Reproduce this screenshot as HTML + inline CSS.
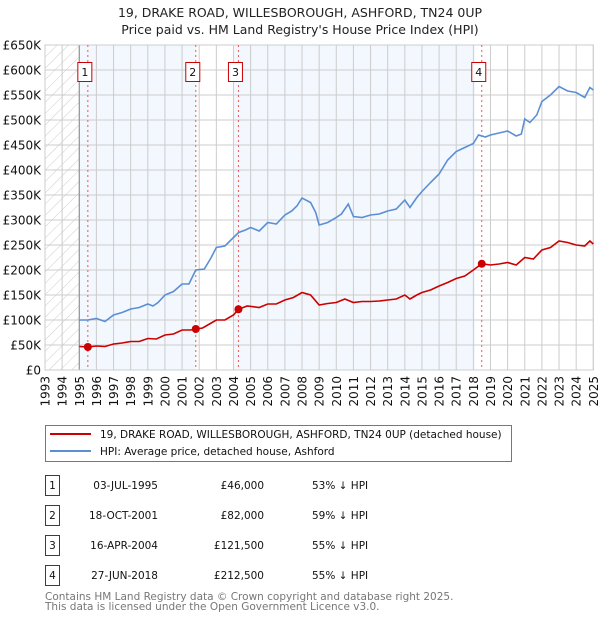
<!DOCTYPE html>
<html><head><meta charset="utf-8">
<style>
body{margin:0;background:#fff;font-family:"DejaVu Sans","Liberation Sans",sans-serif;}
#wrap{position:relative;width:600px;height:620px;overflow:hidden;}
svg text{font-family:"DejaVu Sans","Liberation Sans",sans-serif;}
</style></head>
<body><div id="wrap">
<svg id="chart" width="600" height="620" xmlns="http://www.w3.org/2000/svg">
<text x="300" y="17" text-anchor="middle" font-size="12.5" fill="#222">19, DRAKE ROAD, WILLESBOROUGH, ASHFORD, TN24 0UP</text>
<text x="300" y="34" text-anchor="middle" font-size="12.5" fill="#222">Price paid vs. HM Land Registry's House Price Index (HPI)</text>
<defs><pattern id="hatch" width="8" height="8" patternUnits="userSpaceOnUse" patternTransform="rotate(45)"><line x1="0" y1="0" x2="0" y2="8" stroke="#ccc" stroke-width="1"/></pattern></defs>
<g id="plot"></g>
<g id="legend">
<rect x="45.5" y="425.5" width="466" height="36" fill="#fff" stroke="#777"/>
<line x1="50" y1="434" x2="91" y2="434" stroke="#cc0000" stroke-width="2"/>
<text x="100" y="438" font-size="10.5" fill="#111">19, DRAKE ROAD, WILLESBOROUGH, ASHFORD, TN24 0UP (detached house)</text>
<line x1="50" y1="451" x2="91" y2="451" stroke="#5b8fd4" stroke-width="2"/>
<text x="100" y="455" font-size="10.5" fill="#111">HPI: Average price, detached house, Ashford</text>
</g>
<g id="table" font-size="10.5" fill="#111"></g>
<text x="45" y="600" font-size="10.5" fill="#777">Contains HM Land Registry data © Crown copyright and database right 2025.</text>
<text x="45" y="610" font-size="10.5" fill="#777">This data is licensed under the Open Government Licence v3.0.</text>
</svg>
</div>
<script>
const yTicks=[0,50,100,150,200,250,300,350,400,450,500,550,600,650];
const yTickLabels=["£0","£50K","£100K","£150K","£200K","£250K","£300K","£350K","£400K","£450K","£500K","£550K","£600K","£650K"];
const xYears=[1993,1994,1995,1996,1997,1998,1999,2000,2001,2002,2003,2004,2005,2006,2007,2008,2009,2010,2011,2012,2013,2014,2015,2016,2017,2018,2019,2020,2021,2022,2023,2024,2025];
const hpiDates=[1995.0,1995.5,1996.0,1996.5,1997.0,1997.5,1998.0,1998.5,1999.0,1999.3,1999.6,2000.0,2000.5,2001.0,2001.4,2001.8,2002.3,2002.7,2003.0,2003.5,2004.0,2004.3,2004.7,2005.0,2005.5,2006.0,2006.5,2007.0,2007.4,2007.7,2008.0,2008.5,2008.8,2009.0,2009.5,2010.0,2010.3,2010.7,2011.0,2011.5,2012.0,2012.5,2013.0,2013.5,2014.0,2014.3,2014.7,2015.0,2015.5,2016.0,2016.5,2017.0,2017.5,2018.0,2018.3,2018.7,2019.0,2019.5,2020.0,2020.5,2020.8,2021.0,2021.3,2021.7,2022.0,2022.5,2023.0,2023.5,2024.0,2024.5,2024.8,2025.0];
const hpiValues=[100,100,103,97,110,115,122,125,132,128,135,150,157,172,172,200,202,225,245,248,265,275,280,285,278,295,292,310,318,328,344,335,315,290,295,305,312,332,307,305,310,312,318,322,340,325,345,357,375,392,420,437,445,453,470,466,470,474,478,468,472,502,495,510,537,550,567,558,555,545,565,560];
const ppDates=[1995.0,1995.5,1996.0,1996.5,1997.0,1997.5,1998.0,1998.5,1999.0,1999.5,2000.0,2000.5,2001.0,2001.5,2001.8,2002.2,2002.6,2003.0,2003.5,2004.0,2004.29,2004.8,2005.5,2006.0,2006.5,2007.0,2007.5,2008.0,2008.5,2009.0,2009.5,2010.0,2010.5,2011.0,2011.5,2012.0,2012.5,2013.0,2013.5,2014.0,2014.3,2014.7,2015.0,2015.5,2016.0,2016.5,2017.0,2017.5,2018.0,2018.49,2019.0,2019.5,2020.0,2020.5,2021.0,2021.5,2022.0,2022.5,2023.0,2023.5,2024.0,2024.5,2024.8,2025.0];
const ppValues=[47,46,48,47,52,54,57,57,63,62,70,72,80,80,82,84,92,100,100,110,121.5,128,125,132,132,140,145,155,150,130,133,135,142,135,137,137,138,140,142,150,142,150,155,160,168,175,183,188,200,212.5,210,212,215,210,225,222,240,245,258,255,250,248,258,252];
const saleIds=["1","2","3","4"];
const saleDates=[1995.5,2001.8,2004.29,2018.49];
const salePrices=[46,82,121.5,212.5];
const saleDateLabels=["03-JUL-1995","18-OCT-2001","16-APR-2004","27-JUN-2018"];
const salePriceLabels=["£46,000","£82,000","£121,500","£212,500"];
const saleHpiLabels=["53% ↓ HPI","59% ↓ HPI","55% ↓ HPI","55% ↓ HPI"];

const NS="http://www.w3.org/2000/svg";
const L=45,R=593.3,T=45,B=370;
const X=y=>L+(y-1993)/(2025-1993)*(R-L);
const Y=v=>B-v/650*(B-T);
const plot=document.getElementById('plot');
function mk(tag,attrs,parent){const e=document.createElementNS(NS,tag);for(const k in attrs)e.setAttribute(k,attrs[k]);(parent||plot).appendChild(e);return e;}

let e;
e=mk('rect',{x:L,y:T,width:R-L+1,height:B-T,fill:'#fff'});

e=mk('rect',{x:X(1993),y:T,width:X(1995)-X(1993),height:B-T,fill:'url(#hatch)'});

e=mk('rect',{x:X(1995),y:T,width:X(saleDates[1])-X(1995),height:B-T,fill:'#f3f7fe'});

e=mk('rect',{x:X(2004.0),y:T,width:X(2018.1)-X(2004.0),height:B-T,fill:'#f3f7fe'});


yTicks.forEach((v,i)=>{
  const g=mk('line',{x1:L,x2:R,y1:Y(v),y2:Y(v),stroke:'#ccc','stroke-width':1});
  
  const t=mk('text',{x:L-4,y:Y(v)+4.5,'text-anchor':'end','font-size':12,fill:'#111'});
  t.textContent=yTickLabels[i];
  
});
xYears.forEach(yr=>{
  const g=mk('line',{x1:X(yr),x2:X(yr),y1:T,y2:B,stroke:'#ccc','stroke-width':1});
  
  const t=mk('text',{x:0,y:0,'text-anchor':'end','font-size':12,fill:'#111',transform:`translate(${X(yr)+4.5},${B+6}) rotate(-90)`});
  t.textContent=yr;
  
});
e=mk('line',{x1:X(1995),x2:X(1995),y1:T,y2:B,stroke:'#888','stroke-width':1});

e=mk('rect',{x:L,y:T,width:R-L,height:B-T,fill:'none',stroke:'#ccc'});


saleDates.forEach((d,i)=>{
  const l=mk('line',{x1:X(d),x2:X(d),y1:T,y2:B,stroke:'#e55','stroke-width':1,'stroke-dasharray':'2,3'});
  
  const r=mk('rect',{x:X(d)-10,y:62.5,width:14,height:19,fill:'#fff',stroke:'#cc0000'});
  
  const t=mk('text',{x:X(d)-3,y:76,'text-anchor':'middle','font-size':11,fill:'#111'});
  t.textContent=saleIds[i];
  
});

e=mk('polyline',{points:hpiDates.map((d,i)=>X(d)+','+Y(hpiValues[i])).join(' '),fill:'none',stroke:'#5b8fd4','stroke-width':1.6});

e=mk('polyline',{points:ppDates.map((d,i)=>X(d)+','+Y(ppValues[i])).join(' '),fill:'none',stroke:'#cc0000','stroke-width':1.6});

saleDates.forEach((d,i)=>{
  const c=mk('circle',{cx:X(d),cy:Y(salePrices[i]),r:4,fill:'#cc0000'});
  
});

const tb=document.getElementById('table');
saleIds.forEach((id,i)=>{
  const y0=475+i*30;
  const r=mk('rect',{x:45.5,y:y0+0.5,width:14,height:20,fill:'#fff',stroke:'#cc0000'},tb);
  
  let t=mk('text',{x:52.5,y:y0+14,'text-anchor':'middle'},tb);t.textContent=id;
  
  t=mk('text',{x:158,y:y0+14,'text-anchor':'end'},tb);t.textContent=saleDateLabels[i];
  
  t=mk('text',{x:264,y:y0+14,'text-anchor':'end'},tb);t.textContent=salePriceLabels[i];
  
  t=mk('text',{x:312,y:y0+14},tb);t.textContent=saleHpiLabels[i];
  
});
</script>
</body></html>
